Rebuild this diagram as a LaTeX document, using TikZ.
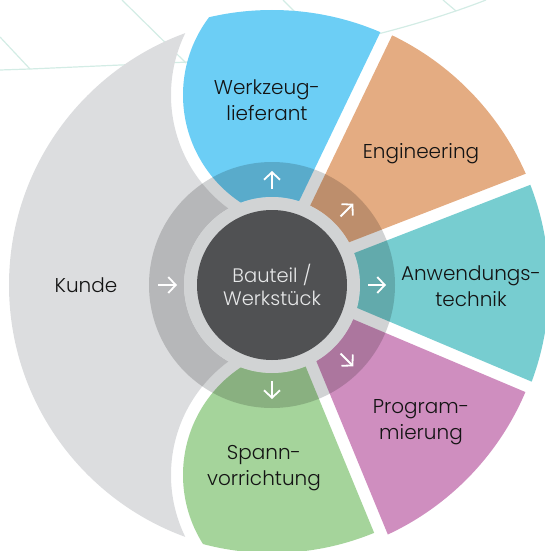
\documentclass[tikz,border=0pt]{standalone}
\usepackage{fontspec}
\setmainfont{Poppins}[UprightFont=* Light]
\usetikzlibrary{arrows.meta}
\definecolor{kunde}{HTML}{DCDDDF}
\definecolor{blueseg}{HTML}{6CCEF5}
\definecolor{orangeseg}{HTML}{E4AC82}
\definecolor{cyanseg}{HTML}{77CDD0}
\definecolor{pinkseg}{HTML}{CF8EBF}
\definecolor{greenseg}{HTML}{A5D49B}
\definecolor{ringgray}{HTML}{D1D3D4}
\definecolor{coregray}{HTML}{505153}
\definecolor{mint}{HTML}{D3ECE5}
\definecolor{labeltext}{HTML}{141414}
\definecolor{coretext}{HTML}{E6E7E8}
\begin{document}
\begin{tikzpicture}[x=1pt,y=-1pt,
  bgline/.style={draw=mint,line width=1.2pt},
  shadering/.style={fill=black,fill opacity=0.17,even odd rule},
  lbl/.style={text=labeltext,font=\fontsize{20}{25.5}\selectfont,align=center,inner sep=0pt},
  corelbl/.style={text=coretext,font=\fontsize{19.5}{23}\selectfont,align=center,inner sep=0pt},
  arr/.style={draw=white,line width=1.8pt,-{Straight Barb[length=7.5pt,width=16pt]}}]
\useasboundingbox (0,0) rectangle (545,551);
\clip (0,0) rectangle (545,551);
% background lines
\draw[bgline] (0,37) -- (30,69);
\draw[bgline] (0,70) -- (30,69) -- (200,61.5);
\draw[bgline] (122,0) -- (186,63);
\draw[bgline] (283,0) -- (300,17);
\draw[bgline] (370,36) .. controls (410,26) and (450,14) .. (486,0);
\draw[bgline] (443,0) -- (456,11);
\begin{scope}[shift={(272,285)}]
  % base ring
  \fill[ringgray] (0,0) circle[radius=123];
  % Kunde
  \begin{scope}
    \clip (-300,-300) rectangle (0,300);
    \clip (5,0) circle[radius=268];
    \begin{scope}[even odd rule]
      \clip (-320,-320) rectangle (320,320) (40,-190) circle[radius=141] (40,190) circle[radius=141];
      \fill[kunde] (-300,-300) rectangle (0,300);
      \fill[shadering] (0,0) circle[radius=123] (0,0) circle[radius=88];
    \end{scope}
  \end{scope}
  % Werkzeuglieferant
  \begin{scope}
    \clip (40,-190) circle[radius=129];
    \clip ([shift={(25.7:-12)}]-64.3:400) -- (-100:800) -- (180:800) -- ([shift={(25.7:-12)}]-64.3:-200) -- cycle;
    \fill[blueseg] (0,0) circle[radius=275];
    \fill[shadering] (0,0) circle[radius=123] (0,0) circle[radius=88];
  \end{scope}
  % Spannvorrichtung
  \begin{scope}
    \clip (40,190) circle[radius=129];
    \clip (67.6:800) -- (150:800) -- (-112.4:800) -- cycle;
    \fill[greenseg] (0,0) circle[radius=268];
    \fill[shadering] (0,0) circle[radius=123] (0,0) circle[radius=88];
  \end{scope}
  % Engineering
  \begin{scope}
    \clip (0,0) -- (-64.3:800) -- ([shift={(68.8:-12)}]-21.2:800) -- ([shift={(68.8:-12)}]-21.2:0) -- cycle;
    \fill[orangeseg] (0,0) circle[radius=277];
    \fill[shadering] (0,0) circle[radius=123] (0,0) circle[radius=88];
  \end{scope}
  % Anwendungstechnik
  \begin{scope}
    \clip (0,0) -- (-21.2:800) -- ([shift={(112.9:-12)}]22.9:800) -- ([shift={(112.9:-12)}]22.9:0) -- cycle;
    \fill[cyanseg] (0,0) circle[radius=277];
    \fill[shadering] (0,0) circle[radius=123] (0,0) circle[radius=88];
  \end{scope}
  % Programmierung
  \begin{scope}
    \clip (0,0) -- (22.9:800) -- ([shift={(157.6:-12)}]67.6:800) -- ([shift={(157.6:-12)}]67.6:0) -- cycle;
    \fill[pinkseg] (0,0) circle[radius=275];
    \fill[shadering] (0,0) circle[radius=123] (0,0) circle[radius=88];
  \end{scope}
  % centre
  \fill[ringgray] (0,0) circle[radius=88];
  \node[circle,fill=coregray,minimum size=150pt,corelbl] (core) at (0,0) {Bauteil /\\Werkstück};
  % arrows
  \coordinate (uS) at (-90:96);  \coordinate (uE) at (-90:114);
  \coordinate (eS) at (-45:97);  \coordinate (eE) at (-45:115);
  \coordinate (rS) at (0:96);    \coordinate (rE) at (0:114);
  \coordinate (pS) at (45:97);   \coordinate (pE) at (45:115);
  \coordinate (dS) at (90:96);   \coordinate (dE) at (90:114);
  \coordinate (kS) at (180:114); \coordinate (kE) at (180:95);
  \draw[arr] (uS) -- (uE);
  \draw[arr] (eS) -- (eE);
  \draw[arr] (rS) -- (rE);
  \draw[arr] (pS) -- (pE);
  \draw[arr] (dS) -- (dE);
  \draw[arr] (kS) -- (kE);
\end{scope}
% labels
\node[lbl] (werkzeug) at (267,100) {Werkzeug-\\lieferant};
\node[lbl] (engineering) at (421,154) {Engineering};
\node[lbl] (anwendung) at (471,286) {Anwendungs-\\technik};
\node[lbl] (program) at (421,422) {Program-\\mierung};
\node[lbl] (spann) at (264,468) {Spann-\\vorrichtung};
\node[lbl] (kunde) at (86,285) {Kunde};
\end{tikzpicture}
\end{document}
